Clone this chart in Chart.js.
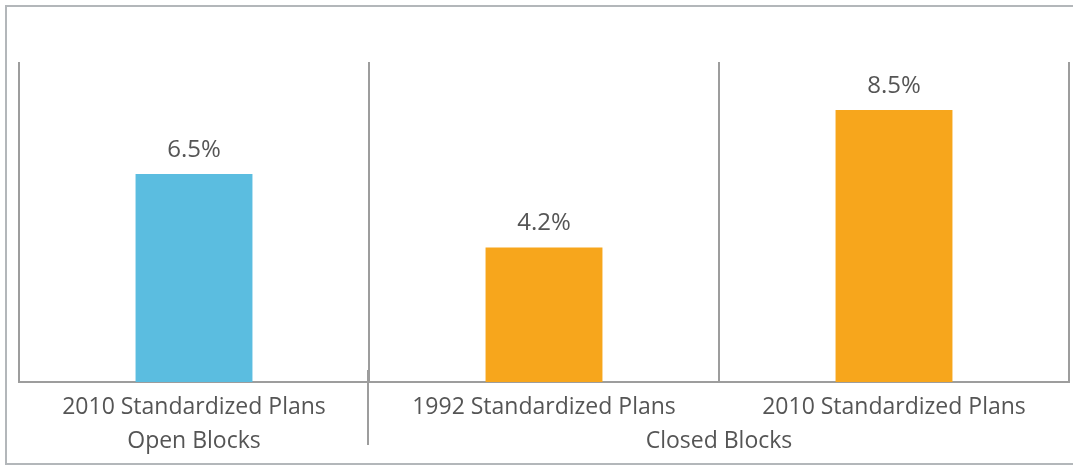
<!DOCTYPE html>
<html>
<head>
<meta charset="utf-8">
<script src="https://cdn.jsdelivr.net/npm/chart.js@4"></script>
<style>
  html, body { margin: 0; padding: 0; background: #fff; }
  #wrap { position: relative; width: 1073px; height: 468px; overflow: hidden; }
  #frame { position: absolute; left: 5px; top: 5px; width: 1100px; height: 460px;
           border: 2px solid #b3b7ba; box-sizing: border-box; }
  canvas { position: absolute; left: 0; top: 0; }
</style>
</head>
<body>
<div id="wrap">
  <div id="frame"></div>
  <canvas id="grafico" width="1073" height="468"></canvas>
</div>
<script>
// datos
const categorias = ["2010 Standardized Plans", "1992 Standardized Plans", "2010 Standardized Plans"];
const grupos = ["Open Blocks", "Closed Blocks"];
const grupoDeCategoria = [0, 1, 1];
const valores = [6.5, 4.2, 8.5];
const colores = ["#5bbde0", "#f7a61c", "#f7a61c"];

const colorTexto = "#555555";
const colorLinea = "#9d9d9d";
const fuente = "'Open Sans', sans-serif";

// etiquetas de valor, categorias y grupos
const textos = {
  id: "textos",
  afterDraw(chart) {
    const c = chart.ctx;
    const x = chart.scales.x;
    const area = chart.chartArea;
    const meta = chart.getDatasetMeta(0);
    c.save();
    c.fillStyle = colorTexto;
    c.textAlign = "center";

    // valores encima de las barras
    c.font = "24px " + fuente;
    c.textBaseline = "bottom";
    meta.data.forEach((bar, i) => {
      c.fillText(valores[i].toFixed(1) + "%", bar.x, bar.y - 12);
    });

    // nombres de categoria
    c.font = "23px " + fuente;
    c.textBaseline = "middle";
    categorias.forEach((cat, i) => {
      c.fillText(cat, x.getPixelForValue(i), area.bottom + 25);
    });

    // nombres de grupo centrados sobre sus categorias
    grupos.forEach((g, gi) => {
      const idx = grupoDeCategoria.map((v, i) => v === gi ? i : -1).filter(i => i >= 0);
      const xs = idx.map(i => x.getPixelForValue(i));
      const cx = (Math.min(...xs) + Math.max(...xs)) / 2;
      c.fillText(g, cx, area.bottom + 59);
    });

    // separador entre grupos que baja hasta los nombres de grupo
    for (let i = 1; i < categorias.length; i++) {
      if (grupoDeCategoria[i] !== grupoDeCategoria[i - 1]) {
        const sx = (x.getPixelForValue(i - 1) + x.getPixelForValue(i)) / 2;
        c.strokeStyle = colorLinea;
        c.lineWidth = 2;
        c.beginPath();
        c.moveTo(sx - 1, area.bottom - 12);
        c.lineTo(sx - 1, area.bottom + 63);
        c.stroke();
      }
    }
    c.restore();
  }
};

new Chart(document.getElementById("grafico"), {
  type: "bar",
  data: {
    labels: categorias,
    datasets: [{
      data: valores,
      backgroundColor: colores,
      borderWidth: 0,
      categoryPercentage: 1,
      barPercentage: 0.334
    }]
  },
  options: {
    responsive: false,
    animation: false,
    layout: { padding: { left: 19, right: 4, top: 62, bottom: 86 } },
    plugins: {
      legend: { display: false },
      tooltip: { enabled: false }
    },
    scales: {
      x: {
        offset: true,
        grid: { offset: true, color: colorLinea, lineWidth: 2, drawTicks: false },
        border: { color: colorLinea, width: 2 },
        ticks: { display: false }
      },
      y: {
        display: false,
        min: 0,
        max: 10
      }
    }
  },
  plugins: [textos]
});
</script>
</body>
</html>
